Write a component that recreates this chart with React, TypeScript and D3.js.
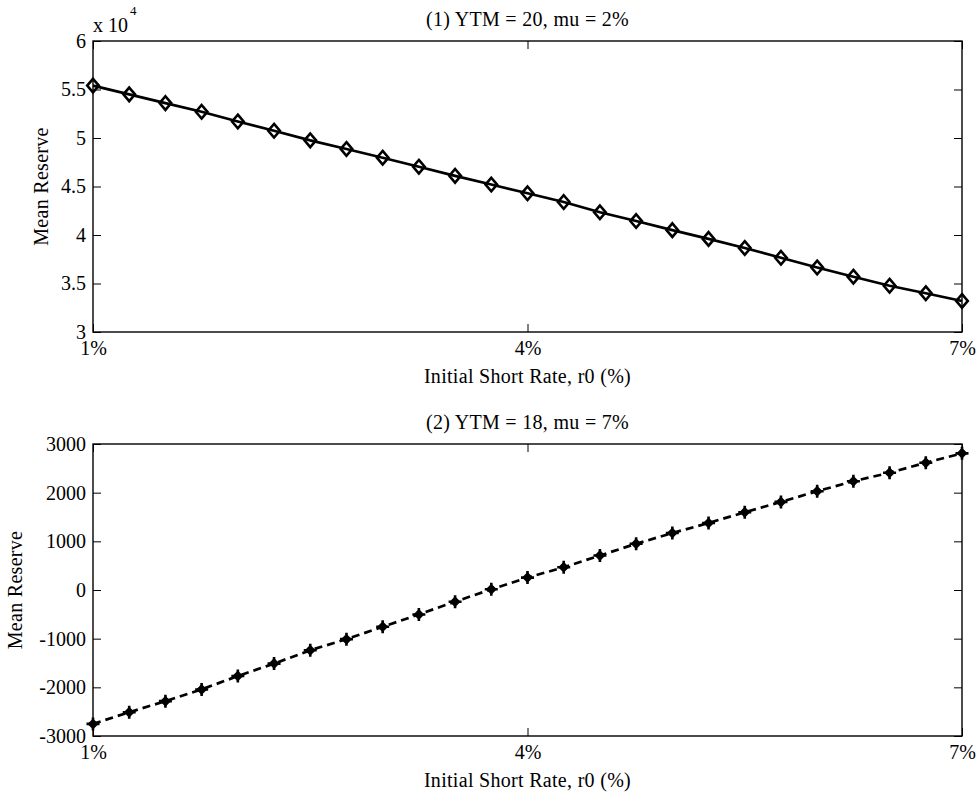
import React, { useEffect, useRef } from 'react'
import * as d3 from 'd3'

// initial short rate r0 in percent
const rates = [1, 1.25, 1.5, 1.75, 2, 2.25, 2.5, 2.75, 3, 3.25, 3.5, 3.75, 4, 4.25, 4.5, 4.75, 5, 5.25, 5.5, 5.75, 6, 6.25, 6.5, 6.75, 7]

// panel 1: mean reserve, in units of 10^4
const reserveYtm20 = [5.54, 5.45, 5.36, 5.27, 5.17, 5.075, 4.976, 4.887, 4.797, 4.704, 4.61, 4.52, 4.43, 4.34, 4.234, 4.144, 4.05, 3.96, 3.866, 3.765, 3.665, 3.57, 3.477, 3.4, 3.32]

// panel 2: mean reserve
const reserveYtm18 = [-2751, -2511, -2284, -2043, -1768, -1512, -1238, -1010, -756, -502, -240, 14, 255, 467, 709, 950, 1170, 1377, 1597, 1810, 2030, 2236, 2409, 2616, 2808]

const xTicks = [1, 4, 7]
const yTicks1 = [3, 3.5, 4, 4.5, 5, 5.5, 6]
const yTicks2 = [-3000, -2000, -1000, 0, 1000, 2000, 3000]

const titles = ['(1) YTM = 20, mu = 2%', '(2) YTM = 18, mu = 7%']
const xLabel = 'Initial Short Rate, r0 (%)'
const yLabel = 'Mean Reserve'

const W = 976
const H = 794
const FONT = '"Liberation Serif", "Times New Roman", serif'
const FS = 20

export default function App() {
  const ref = useRef<SVGSVGElement>(null)

  useEffect(() => {
    const svg = d3.select(ref.current)
    svg.selectAll('*').remove()

    const left = 93
    const right = 962

    const panels = [
      { top: 41, bottom: 332, values: reserveYtm20, yTicks: yTicks1, domain: [3, 6], dashed: false, ylabX: 41, title: titles[0] },
      { top: 444, bottom: 736, values: reserveYtm18, yTicks: yTicks2, domain: [-3000, 3000], dashed: true, ylabX: 15, title: titles[1] },
    ]

    const x = d3.scaleLinear().domain([1, 7]).range([left, right])

    panels.forEach((p, pi) => {
      const y = d3.scaleLinear().domain(p.domain).range([p.bottom, p.top])
      const g = svg.append('g')

      // ticks on all four sides, pointing inward
      const styleAxis = (sel: any) => {
        sel.select('.domain').remove()
        sel.selectAll('line').attr('stroke', '#000').attr('stroke-width', 1)
        sel.selectAll('text').attr('font-family', FONT).attr('font-size', FS).attr('fill', '#000')
        sel.attr('font-family', null).attr('font-size', null)
      }

      g.append('g')
        .attr('transform', `translate(${left},0)`)
        .call(d3.axisLeft(y).tickValues(p.yTicks).tickSize(-8).tickPadding(7).tickFormat((d: any) => String(d)))
        .call(styleAxis)
      g.append('g')
        .attr('transform', `translate(${right},0)`)
        .call(d3.axisRight(y).tickValues(p.yTicks).tickSize(-8).tickFormat(() => ''))
        .call(styleAxis)
      g.append('g')
        .attr('transform', `translate(0,${p.bottom})`)
        .call(d3.axisBottom(x).tickValues(xTicks).tickSize(-8).tickPadding(9).tickFormat((d: any) => `${d}%`))
        .call(styleAxis)
      g.append('g')
        .attr('transform', `translate(0,${p.top})`)
        .call(d3.axisTop(x).tickValues(xTicks).tickSize(-8).tickFormat(() => ''))
        .call(styleAxis)

      g.append('rect')
        .attr('x', left)
        .attr('y', p.top)
        .attr('width', right - left)
        .attr('height', p.bottom - p.top)
        .attr('fill', 'none')
        .attr('stroke', '#000')
        .attr('stroke-width', 1.4)

      const line = d3.line<number>()
        .x((_, i) => x(rates[i]))
        .y((d) => y(d))

      g.append('path')
        .datum(p.values)
        .attr('d', line)
        .attr('fill', 'none')
        .attr('stroke', '#000')
        .attr('stroke-width', 2.7)
        .attr('stroke-dasharray', p.dashed ? '8,5' : null)

      const marks = g.selectAll('g.mk')
        .data(p.values)
        .enter()
        .append('g')
        .attr('class', 'mk')
        .attr('transform', (d, i) => `translate(${x(rates[i])},${y(d)})`)

      if (!p.dashed) {
        marks.append('path')
          .attr('d', 'M0,-6.8L5.8,0L0,6.8L-5.8,0Z')
          .attr('fill', 'none')
          .attr('stroke', '#000')
          .attr('stroke-width', 2.6)
      } else {
        marks.append('path')
          .attr('d', 'M0,-5.5L5.5,0L0,5.5L-5.5,0Z')
          .attr('fill', '#000')
        marks.append('path')
          .attr('d', 'M-6.5,0H6.5M0,-6.5V6.5')
          .attr('stroke', '#000')
          .attr('stroke-width', 2.6)
      }

      const text = (tx: number, ty: number, s: string, anchor = 'middle', size = FS, ls = 0.3) =>
        g.append('text')
          .attr('x', tx)
          .attr('y', ty)
          .attr('text-anchor', anchor)
          .attr('font-family', FONT)
          .attr('font-size', size)
          .attr('letter-spacing', ls)
          .attr('fill', '#000')
          .text(s)

      text((left + right) / 2, p.top - 15, p.title)
      text((left + right) / 2, p.bottom + 51, xLabel)

      g.append('text')
        .attr('transform', `translate(${p.ylabX},${(p.top + p.bottom) / 2}) rotate(-90)`)
        .attr('text-anchor', 'middle')
        .attr('dominant-baseline', 'central')
        .attr('font-family', FONT)
        .attr('font-size', FS)
        .attr('letter-spacing', 0.3)
        .attr('fill', '#000')
        .text(yLabel)

      if (pi === 0) {
        text(left, p.top - 9, 'x 10', 'start', FS, 0)
        text(left + 37, p.top - 26, '4', 'start', 13, 0)
      }
    })
  }, [])

  return (
    <svg
      ref={ref}
      width={W}
      height={H}
      style={{ position: 'absolute', left: 0, top: 0, background: '#fff' }}
    />
  )
}
